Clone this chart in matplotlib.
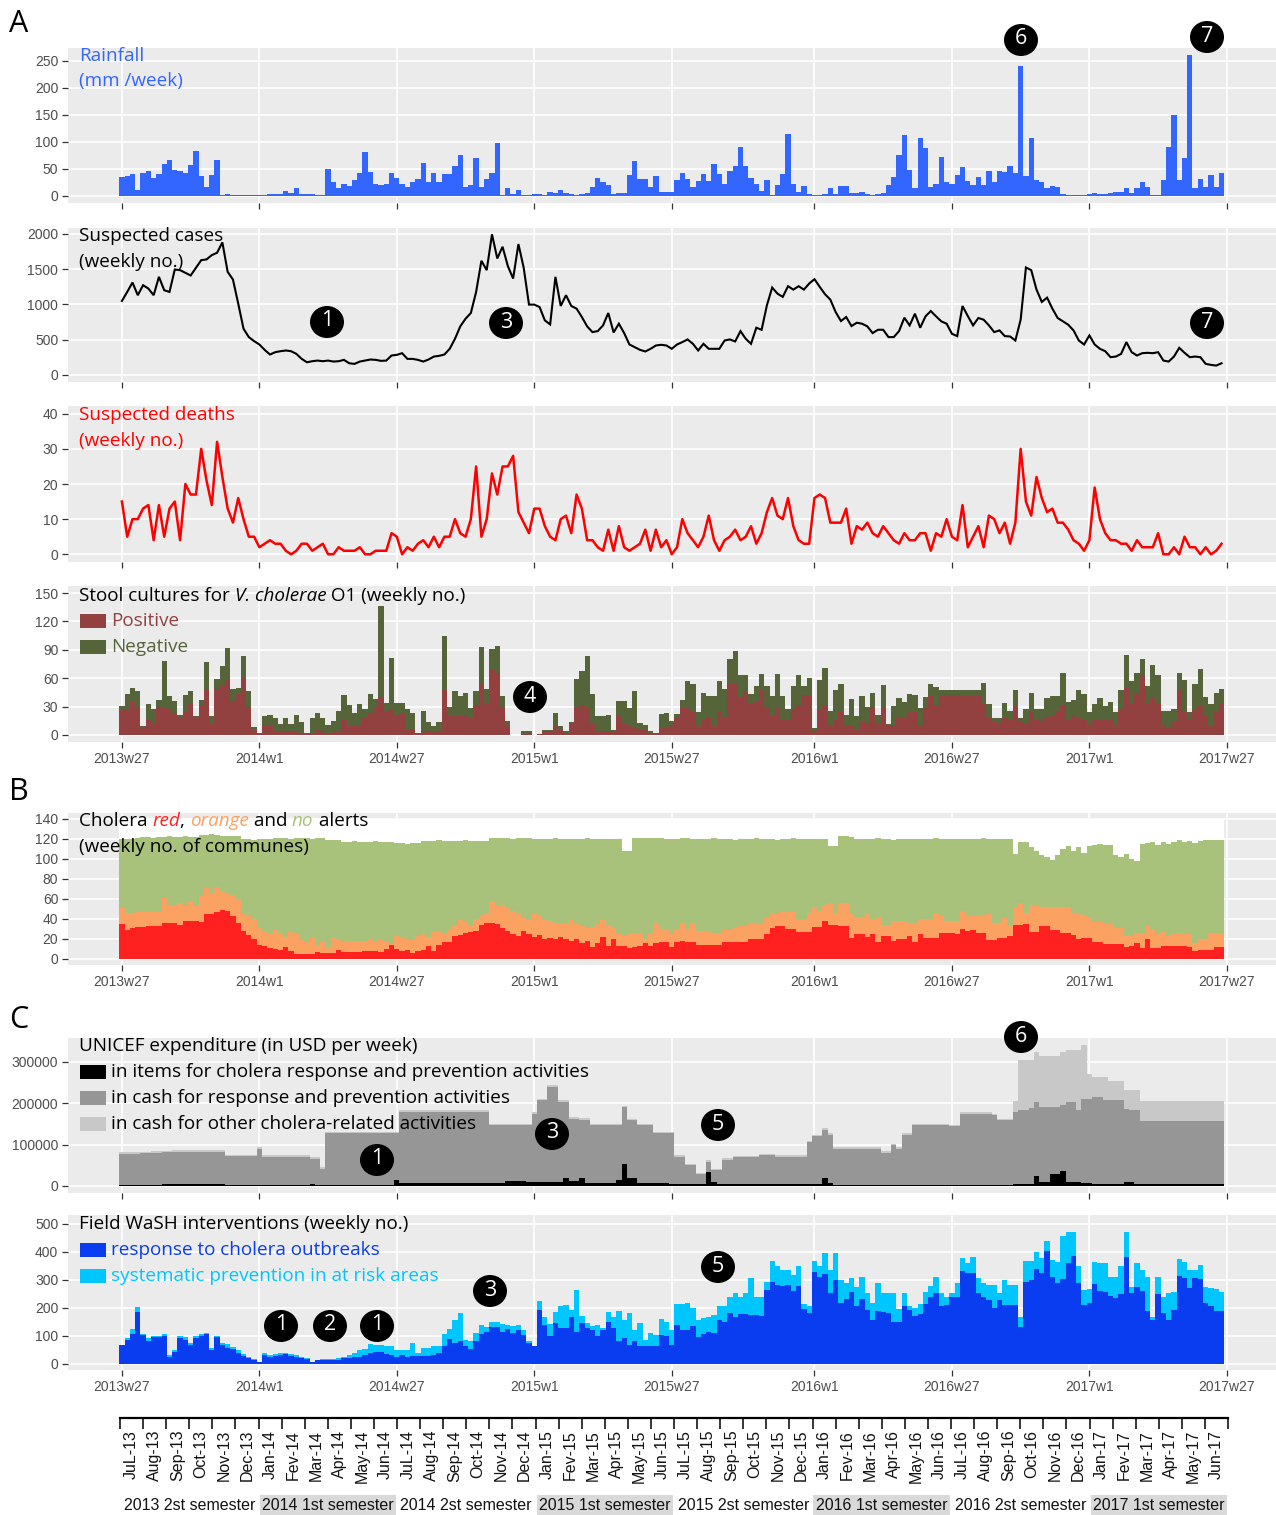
import numpy as np
import matplotlib
matplotlib.use("Agg")
import matplotlib.pyplot as plt
from matplotlib.patches import Ellipse, Rectangle

# ---------------------------------------------------------------- data
week_ticks = [0, 26, 52, 78, 104, 131, 157, 183, 209]
week_labels = ['2013w27', '2014w1', '2014w27', '2015w1', '2015w27',
               '2016w1', '2016w27', '2017w1', '2017w27']

month_labels = ['JuL-13', 'Aug-13', 'Sep-13', 'Oct-13', 'Nov-13', 'Dec-13',
                'Jan-14', 'Fev-14', 'Mar-14', 'Apr-14', 'May-14', 'Jun-14',
                'JuL-14', 'Aug-14', 'Sep-14', 'Oct-14', 'Nov-14', 'Dec-14',
                'Jan-15', 'Fev-15', 'Mar-15', 'Apr-15', 'May-15', 'Jun-15',
                'JuL-15', 'Aug-15', 'Sep-15', 'Oct-15', 'Nov-15', 'Dec-15',
                'Jan-16', 'Fev-16', 'Mar-16', 'Apr-16', 'May-16', 'Jun-16',
                'JuL-16', 'Aug-16', 'Sep-16', 'Oct-16', 'Nov-16', 'Dec-16',
                'Jan-17', 'Fev-17', 'Mar-17', 'Apr-17', 'May-17', 'Jun-17']
semester_labels = ['2013 2st semester', '2014 1st semester', '2014 2st semester',
                   '2015 1st semester', '2015 2st semester', '2016 1st semester',
                   '2016 2st semester', '2017 1st semester']

rainfall = [36,37,40,11,42,47,34,40,60,67,
            48,47,43,58,84,37,16,39,67,1,
            4,1,1,1,1,1,1,1,3,3,
            3,10,6,14,4,3,3,1,2,50,
            26,14,22,19,29,42,81,45,22,20,
            23,43,33,22,16,26,32,61,25,42,
            25,40,40,56,75,16,20,71,16,32,
            42,98,2,14,4,11,2,1,3,4,
            2,7,5,11,5,3,2,3,5,16,
            34,25,20,3,6,6,39,64,31,31,
            16,37,8,8,8,29,42,32,16,28,
            40,27,60,40,22,47,55,91,55,34,
            22,9,30,2,20,40,115,23,7,19,
            3,2,2,3,14,3,19,19,5,5,
            8,3,2,4,6,20,35,76,113,48,
            14,108,88,16,23,73,25,23,39,54,
            28,20,35,20,47,25,47,45,55,42,
            240,37,108,29,26,14,19,17,3,2,
            2,1,1,4,6,3,3,5,8,8,
            14,5,14,26,17,1,1,29,91,150,
            29,70,261,14,32,16,39,16,43]

cases = [1050,1178,1311,1131,1273,1226,1131,1392,1202,1178,
         1496,1487,1449,1411,1520,1629,1639,1700,1734,1881,
         1463,1354,1012,656,537,480,432,356,290,323,
         337,347,337,299,228,180,195,204,195,204,
         190,195,214,166,157,190,204,219,214,200,
         204,276,285,309,228,228,214,190,219,261,
         271,290,371,513,689,798,879,1178,1620,1487,
         1995,1653,1819,1544,1368,1857,1520,998,998,964,
         774,717,1392,979,1131,979,941,822,689,608,
         622,703,879,603,727,594,432,394,356,333,
         371,418,428,418,371,432,466,504,442,347,
         442,371,371,371,489,504,475,622,513,442,
         670,641,988,1240,1154,1107,1259,1211,1259,1211,
         1297,1359,1249,1145,1069,893,765,822,694,741,
         727,689,594,641,641,537,537,622,812,703,
         869,670,831,907,831,760,727,584,551,979,
         836,703,808,784,703,608,632,551,546,489,
         784,1525,1487,1211,1036,1097,941,808,760,713,
         632,489,432,561,432,371,337,252,261,299,
         466,323,276,309,314,309,323,204,190,261,
         385,314,252,261,252,157,143,133,166]

deaths = [15,5,10,10,13,14,4,14,5,13,
          15,4,20,17,17,30,21,14,32,22,
          13,9,16,10,5,5,2,3,4,3,
          3,1,0,1,3,3,1,2,3,0,
          0,2,1,1,1,2,0,0,1,1,
          1,6,5,0,2,1,3,4,2,5,
          2,5,5,10,6,5,10,25,5,10,
          23,17,25,25,28,12,9,6,13,13,
          8,5,4,10,11,6,17,13,4,4,
          2,1,7,1,8,2,1,2,3,7,
          1,7,2,4,0,2,10,6,4,2,
          5,11,4,1,4,5,7,4,5,8,
          3,6,12,16,11,10,16,8,4,3,
          3,16,17,16,9,9,9,13,3,8,
          7,9,6,5,8,6,4,3,6,4,
          4,6,6,1,6,5,10,5,4,14,
          2,5,8,2,11,10,6,9,3,9,
          30,15,11,22,16,12,13,9,9,7,
          4,3,1,4,19,10,6,4,4,3,
          3,1,4,2,2,2,6,0,0,2,
          0,5,2,2,0,2,0,1,3]

stool_total = [31,43,50,46,9,33,27,37,78,41,
               36,21,42,46,20,37,77,20,59,73,
               92,49,50,83,46,8,2,20,21,18,
               12,18,12,21,14,2,18,23,18,11,
               15,25,42,32,23,33,27,43,38,136,
               34,81,34,34,27,23,2,25,14,9,
               14,105,30,46,41,44,28,46,93,49,
               91,94,41,15,0,0,4,4,0,1,
               5,5,23,9,4,14,59,68,83,43,
               20,20,21,5,36,36,28,46,13,11,
               4,2,22,23,15,22,37,57,54,24,
               44,41,41,57,49,80,89,63,63,43,
               52,64,52,41,64,41,27,52,63,52,
               60,7,58,71,25,47,54,21,38,20,
               41,29,44,21,53,12,31,39,35,43,
               42,28,40,54,51,48,48,48,48,48,
               48,48,48,55,33,18,18,34,25,47,
               18,27,44,27,27,39,41,41,66,35,
               37,47,43,24,33,39,31,35,24,48,
               85,57,66,80,52,74,63,25,25,27,
               65,58,24,54,70,40,33,44,49]

stool_positive = [26,26,36,28,7,16,12,28,30,27,
                  23,18,25,34,18,32,47,12,49,53,
                  58,36,43,60,30,5,2,11,9,4,
                  4,4,4,4,2,1,2,5,4,2,
                  4,4,16,11,9,11,18,23,28,39,
                  25,27,21,23,5,5,1,4,4,4,
                  4,47,20,20,20,21,18,32,54,34,
                  70,66,28,9,0,0,1,1,0,1,
                  4,4,11,5,2,12,28,32,28,12,
                  4,4,4,4,20,12,9,7,6,6,
                  2,2,7,7,10,18,28,30,24,10,
                  17,19,11,25,19,55,55,39,46,34,
                  35,47,29,20,28,17,16,27,32,42,
                  42,4,27,32,11,17,24,11,11,5,
                  14,13,28,13,30,10,11,18,18,24,
                  24,11,30,42,31,41,41,41,41,41,
                  41,41,41,34,19,14,13,19,16,31,
                  15,13,24,16,15,19,20,25,32,16,
                  21,19,16,11,17,16,16,17,11,26,
                  51,33,44,63,33,39,33,11,7,15,
                  47,25,17,27,31,20,11,24,34]

alert_red = [35,29,31,32,32,33,33,33,36,36,
             36,34,38,38,38,37,45,45,47,49,
             48,43,36,28,24,20,14,13,11,10,
             9,12,8,5,5,5,5,7,6,6,
             6,9,7,7,7,7,8,8,8,7,
             10,14,10,8,9,6,8,9,13,8,
             14,17,17,23,24,26,27,28,34,36,
             36,35,31,28,25,23,28,25,22,24,
             20,21,20,22,20,18,20,16,18,12,
             16,22,13,20,13,13,11,12,13,16,
             13,16,17,17,12,17,18,17,17,14,
             14,14,14,14,17,17,17,17,17,20,
             20,20,25,31,33,33,30,30,27,27,
             27,32,32,38,34,34,33,33,21,25,
             25,22,25,17,23,23,18,20,20,23,
             17,25,21,21,21,26,26,26,25,30,
             28,29,26,26,19,19,21,21,23,34,
             34,35,27,27,33,33,29,29,26,26,
             24,20,21,21,17,17,15,15,15,15,
             12,13,16,11,20,11,11,13,13,13,
             13,13,12,8,9,9,9,12,12]

# communes in red or orange alert (cumulative red + orange)
alert_red_orange = [51,46,46,47,47,47,47,47,61,53,
                    53,56,53,57,53,63,71,66,72,68,
                    66,64,60,45,43,40,31,28,26,29,
                    26,22,27,25,19,17,21,14,18,12,
                    22,19,17,18,18,18,18,20,17,19,
                    17,15,23,21,19,19,23,26,22,27,
                    28,26,30,33,39,38,33,40,43,46,
                    58,53,54,51,48,46,41,39,45,43,
                    39,38,36,35,36,39,35,33,31,32,
                    35,39,33,31,25,23,25,26,26,20,
                    25,36,30,30,25,30,36,30,36,28,
                    28,28,26,26,29,29,31,33,33,35,
                    35,35,42,45,45,47,47,47,40,40,
                    46,52,48,54,56,46,56,56,45,42,
                    42,46,40,42,34,34,38,38,38,36,
                    36,40,40,40,46,43,38,38,38,48,
                    43,43,43,43,45,36,36,41,34,51,
                    56,46,54,54,52,52,52,52,52,52,
                    45,45,44,41,37,37,35,35,31,31,
                    23,23,26,26,33,30,25,27,23,26,
                    26,25,25,16,20,20,26,26,26]

# communes reporting (red + orange + no alert)
alert_reporting = [120,120,120,121,122,122,121,122,122,123,
                   122,122,123,122,122,124,124,125,124,123,
                   123,123,123,120,120,119,120,120,120,121,
                   121,121,120,121,121,121,120,121,121,119,
                   119,119,117,117,118,117,117,117,118,117,
                   117,117,116,116,115,116,116,118,118,118,
                   119,118,118,118,118,119,118,118,118,118,
                   121,121,121,121,120,121,121,121,120,120,
                   120,120,121,120,120,120,120,120,121,120,
                   120,120,120,120,120,108,108,121,121,121,
                   121,121,121,120,120,120,121,121,120,120,
                   120,120,121,120,120,120,119,120,120,120,
                   121,120,120,120,119,120,120,121,120,120,
                   120,120,120,120,113,113,123,123,122,120,
                   120,120,120,121,120,120,119,120,120,120,
                   120,120,120,120,121,120,120,120,120,120,
                   120,120,120,121,120,120,120,120,120,105,
                   117,117,112,108,104,102,99,104,110,113,
                   108,112,106,113,114,115,114,114,104,102,
                   105,100,98,115,116,117,114,117,115,117,
                   119,117,118,116,118,119,119,119,119]
total_communes = 140

# UNICEF expenditure, thousands of USD per week
exp_items_k = [2,2,2,2,2,2,2,2,4,4,
               4,4,4,4,4,4,4,4,4,4,
               2,2,2,2,2,2,2,2,2,2,
               2,2,2,2,2,2,5,3,3,3,
               3,3,3,3,3,3,3,3,3,3,
               3,3,14,7,7,7,7,7,7,7,
               7,7,7,7,7,7,7,7,7,7,
               7,7,7,11,11,11,11,9,9,9,
               9,9,9,9,20,12,12,20,7,7,
               7,7,7,7,14,52,20,20,7,7,
               7,7,7,7,4,4,4,4,4,4,
               4,35,10,4,4,4,4,4,4,4,
               4,4,4,4,4,4,4,4,4,4,
               4,4,4,20,8,3,3,3,3,3,
               3,3,3,3,3,3,3,3,3,3,
               3,3,3,3,3,3,3,3,3,3,
               3,3,3,3,3,3,3,3,3,5,
               5,5,5,25,10,10,28,28,37,10,
               10,10,8,8,4,4,4,4,4,4,
               10,10,4,4,4,4,4,4,4,4,
               4,4,4,4,4,4,4,4,4]
# items + cash for response and prevention (cumulative level)
exp_items_cash_k = [77,77,78,78,79,79,80,80,81,81,
                    82,82,82,82,82,82,82,82,82,82,
                    72,72,72,72,72,72,90,70,70,70,
                    70,70,70,70,70,70,66,66,42,127,
                    127,127,127,127,127,127,127,127,127,127,
                    127,127,127,179,179,179,179,179,179,179,
                    179,179,179,179,179,179,179,179,179,179,
                    147,147,147,147,147,147,147,147,175,207,
                    207,240,240,203,203,163,163,160,160,147,
                    147,147,147,147,147,190,159,159,147,147,
                    147,127,127,127,127,70,70,50,50,28,
                    28,58,38,38,64,64,69,69,69,69,
                    69,74,74,74,70,70,70,70,70,70,
                    106,120,120,136,123,90,90,90,90,90,
                    90,90,90,90,80,80,98,90,123,123,
                    147,147,147,147,147,147,147,144,144,175,
                    175,175,175,175,175,171,159,159,159,179,
                    185,185,189,203,191,191,191,191,195,203,
                    203,183,211,211,215,215,207,207,207,207,
                    187,185,185,157,157,157,157,157,157,157,
                    157,157,157,157,157,157,157,157,157]
exp_other_k = [4,4,4,4,4,4,4,4,4,4,
               4,4,4,4,4,4,4,4,4,4,
               4,4,4,4,4,4,4,4,4,4,
               4,4,4,4,4,4,4,4,4,4,
               4,4,4,4,4,4,4,4,4,4,
               4,4,4,4,4,4,4,4,4,4,
               4,4,4,4,4,4,4,4,4,4,
               4,4,4,4,4,4,4,4,4,4,
               4,4,4,4,4,4,4,4,4,4,
               4,4,4,4,4,4,4,4,4,4,
               4,4,4,4,4,4,4,4,4,4,
               4,4,4,4,4,4,4,4,4,4,
               4,4,4,4,4,4,4,4,4,4,
               4,4,4,4,4,4,4,4,4,4,
               4,4,4,4,4,4,4,4,4,4,
               4,4,4,4,4,4,4,4,4,4,
               4,4,4,4,4,4,4,4,4,26,
               119,119,115,120,124,124,124,124,129,127,
               127,147,129,59,49,49,57,46,46,46,
               46,48,48,49,49,49,49,49,49,49,
               49,49,49,49,49,49,49,49,49]

wash_response = [68,86,107,187,104,80,95,95,100,26,
                 44,92,86,68,92,98,107,50,95,68,
                 56,52,40,29,20,14,5,32,26,29,
                 32,35,29,26,20,17,6,12,14,14,
                 12,14,20,20,26,26,32,40,44,44,
                 36,32,26,32,26,29,29,29,29,32,
                 38,62,88,74,80,64,52,80,107,115,
                 133,133,115,124,110,121,104,74,62,193,
                 139,98,145,127,127,169,115,145,127,121,
                 98,121,148,127,80,92,68,80,64,64,
                 64,64,104,98,68,139,121,121,136,95,
                 107,115,112,157,151,181,169,179,179,175,
                 175,171,264,294,282,279,282,262,279,195,
                 183,330,312,321,252,298,217,231,258,205,
                 231,193,155,190,187,181,148,148,207,193,
                 171,179,214,238,252,205,212,240,240,333,
                 326,324,252,240,229,199,229,212,212,212,
                 133,294,300,338,324,405,312,290,302,360,
                 386,290,212,217,286,262,258,243,235,250,
                 383,252,276,262,190,157,250,181,157,193,
                 314,307,270,307,302,219,207,190,190]
# response + systematic prevention (total)
wash_total = [68,92,124,202,107,92,98,98,107,32,
              50,98,95,74,98,107,112,56,100,74,
              70,60,50,35,24,17,5,38,32,36,
              38,40,36,32,24,20,8,14,17,17,
              17,20,26,32,40,48,52,70,68,68,
              64,62,48,48,48,74,40,58,56,62,
              64,107,124,157,183,86,80,110,139,133,
              148,148,143,139,136,139,121,80,64,226,
              169,143,187,207,212,193,264,171,145,136,
              139,127,187,169,190,157,181,121,145,86,
              110,104,160,151,121,214,214,217,199,157,
              163,169,175,205,205,240,255,240,252,306,
              240,240,294,369,351,336,336,317,348,214,
              207,369,351,395,336,395,298,290,306,274,
              310,255,217,290,252,252,255,195,252,207,
              199,214,258,279,310,252,240,255,288,377,
              362,383,306,288,282,282,252,300,282,282,
              167,369,369,398,377,440,371,365,458,473,
              473,348,264,267,365,360,360,310,310,350,
              473,276,362,336,310,169,310,240,252,258,
              374,365,336,336,355,274,271,267,258]

N = len(rainfall)
for arr in [cases, deaths, stool_total, stool_positive, alert_red, alert_red_orange,
            alert_reporting, exp_items_k, exp_items_cash_k, exp_other_k,
            wash_response, wash_total]:
    assert len(arr) == N, len(arr)

# ---------------------------------------------------------------- figure
W, H = 1276, 1515
DPI = 100
plt.rcParams['font.family'] = ['Liberation Sans', 'DejaVu Sans']
fig = plt.figure(figsize=(W / DPI, H / DPI), dpi=DPI)
renderer = fig.canvas.get_renderer()

TFONT = ['Open Sans', 'DejaVu Sans']
AFONT = ['Liberation Sans', 'DejaVu Sans']
TSIZE = 13.6

weeks = np.arange(N)
edges = np.arange(N + 1) - 0.5


def fx(x):
    return x / W


def fy(y):
    return 1 - y / H


def add_panel(y0, y1, ylim, yticks, xlabels=False, ytick_labels=None):
    ax = fig.add_axes([fx(68), fy(y1), fx(1276) - fx(68), (y1 - y0) / H])
    ax.set_facecolor('#EBEBEB')
    for s in ax.spines.values():
        s.set_visible(False)
    ax.set_xlim(-10.2, 218.3)
    ax.set_ylim(*ylim)
    ax.set_xticks(week_ticks)
    ax.set_yticks(yticks)
    if ytick_labels is not None:
        ax.set_yticklabels(ytick_labels)
    if xlabels:
        ax.set_xticklabels(week_labels)
    else:
        ax.set_xticklabels([])
    ax.grid(True, color='white', lw=1.2)
    ax.set_axisbelow(True)
    ax.tick_params(axis='both', length=4, width=0.9, color='#333333',
                   labelsize=10, labelcolor='#4D4D4D', pad=3)
    return ax


def text_width(s, size, style='normal'):
    t = fig.text(0, 0, s + '|', fontsize=size, family=TFONT, style=style)
    t2 = fig.text(0, 0, '|', fontsize=size, family=TFONT, style=style)
    w = t.get_window_extent(renderer).width - t2.get_window_extent(renderer).width
    t.remove()
    t2.remove()
    return w


def rich(x, y, parts, size=TSIZE):
    for s, color, style in parts:
        fig.text(fx(x), fy(y), s, fontsize=size, family=TFONT, color=color,
                 style=style, ha='left', va='center', zorder=15)
        x += text_width(s, size, style)


def label(x, y, s, color='black', size=TSIZE):
    fig.text(fx(x), fy(y), s, fontsize=size, family=TFONT, color=color,
             ha='left', va='center', zorder=15)


def swatch(y, color):
    fig.add_artist(Rectangle((fx(80), fy(y + 7)), 26 / W, 14 / H,
                             transform=fig.transFigure, facecolor=color,
                             edgecolor='none', zorder=15))


def badge(x, y, s):
    fig.add_artist(Ellipse((fx(x), fy(y)), 34 / W, 32 / H, transform=fig.transFigure,
                           facecolor='black', edgecolor='none', zorder=20))
    fig.text(fx(x), fy(y - 1), s, color='white', fontsize=15.5, family=TFONT,
             ha='center', va='center', zorder=21)


def stacked(ax, layers, colors):
    base = np.zeros(N)
    for vals, c in zip(layers, colors):
        top = base + np.asarray(vals, dtype=float)
        ax.stairs(top, edges, baseline=base, fill=True, color=c, lw=0)
        base = top


# ---- A: rainfall
ax = add_panel(48, 203, (-13, 274), [0, 50, 100, 150, 200, 250])
stacked(ax, [rainfall], ['#3366FF'])
label(79, 56, 'Rainfall', '#3366FF')
label(79, 81, '(mm /week)', '#3366FF')

# ---- A: suspected cases
ax = add_panel(228, 382, (-100, 2085), [0, 500, 1000, 1500, 2000])
ax.plot(weeks, cases, color='black', lw=1.5, solid_joinstyle='miter')
label(79, 236, 'Suspected cases')
label(79, 262, '(weekly no.)')

# ---- A: suspected deaths
ax = add_panel(406, 562, (-2.2, 42.2), [0, 10, 20, 30, 40])
ax.plot(weeks, deaths, color='#FF0000', lw=1.8)
label(79, 415, 'Suspected deaths', '#FF0000')
label(79, 441, '(weekly no.)', '#FF0000')

# ---- A: stool cultures
pos = np.minimum(np.array(stool_positive), np.array(stool_total))
neg = np.array(stool_total) - pos
ax = add_panel(586, 742, (-7.5, 157.5), [0, 30, 60, 90, 120, 150], xlabels=True)
stacked(ax, [pos, neg], ['#934040', '#566439'])
rich(79, 596, [('Stool cultures for ', 'black', 'normal'),
               ('V. cholerae', 'black', 'italic'),
               (' O1 (weekly no.)', 'black', 'normal')])
swatch(621, '#934040')
label(111, 621, 'Positive', '#934040')
swatch(647, '#566439')
label(111, 647, 'Negative', '#566439')

# ---- B: alerts
red = np.array(alert_red)
red_orange = np.maximum(np.array(alert_red_orange), red)
reporting = np.maximum(np.array(alert_reporting), red_orange)
ax = add_panel(813, 965, (-6.5, 146), [0, 20, 40, 60, 80, 100, 120, 140], xlabels=True)
stacked(ax, [red, red_orange - red, reporting - red_orange, total_communes - reporting],
        ['#FF2020', '#FBA262', '#A9C27B', 'white'])
rich(79, 821, [('Cholera ', 'black', 'normal'), ('red', '#FF2020', 'italic'),
               (', ', 'black', 'normal'), ('orange', '#FBA262', 'italic'),
               (' and ', 'black', 'normal'), ('no', '#A9C27B', 'italic'),
               (' alerts', 'black', 'normal')])
label(79, 847, '(weekly no. of communes)')

# ---- C: UNICEF expenditure
items = np.array(exp_items_k) * 1000.0
cash_resp = (np.array(exp_items_cash_k) - np.array(exp_items_k)) * 1000.0
cash_other = np.array(exp_other_k) * 1000.0
ax = add_panel(1038, 1193, (-17000, 358000), [0, 100000, 200000, 300000],
               ytick_labels=['0', '100000', '200000', '300000'])
stacked(ax, [items, cash_resp, cash_other], ['#000000', '#969696', '#C8C8C8'])
label(79, 1046, 'UNICEF expenditure (in USD per week)')
swatch(1072, '#000000')
label(111, 1072, 'in items for cholera response and prevention activities')
swatch(1098, '#969696')
label(111, 1098, 'in cash for response and prevention activities')
swatch(1124, '#C8C8C8')
label(111, 1124, 'in cash for other cholera-related activities')

# ---- C: WaSH interventions
resp = np.array(wash_response)
prev = np.maximum(np.array(wash_total), resp) - resp
ax = add_panel(1215, 1370, (-22, 532), [0, 100, 200, 300, 400, 500], xlabels=True)
stacked(ax, [resp, prev], ['#0A3CF0', '#00C6FF'])
label(79, 1224, 'Field WaSH interventions (weekly no.)')
swatch(1250, '#0A3CF0')
label(111, 1250, 'response to cholera outbreaks', '#0A3CF0')
swatch(1276, '#00C6FF')
label(111, 1276, 'systematic prevention in at risk areas', '#00C6FF')

# ---- panel letters
for s, y in [('A', 24), ('B', 792), ('C', 1020)]:
    fig.text(fx(19), fy(y), s, fontsize=22, family=TFONT, ha='center', va='center')

# ---- numbered badges
for (x, y, s) in [(1021, 40, '6'), (1207, 37, '7'),
                  (327, 322, '1'), (506, 323, '3'), (1207, 323, '7'),
                  (530, 697, '4'),
                  (1021, 1037, '6'), (377, 1160, '1'), (552, 1134, '3'), (718, 1125, '5'),
                  (281, 1326, '1'), (330, 1326, '2'), (377, 1326, '1'),
                  (490, 1291, '3'), (718, 1267, '5')]:
    badge(x, y, s)

# ---- month axis
axm = fig.add_axes([fx(120), fy(1418), fx(1228) - fx(120), 0.0005])
axm.set_xlim(0, len(month_labels))
axm.set_ylim(0, 1)
axm.patch.set_visible(False)
for s in ['top', 'left', 'right']:
    axm.spines[s].set_visible(False)
axm.spines['bottom'].set_linewidth(1.6)
axm.set_yticks([])
axm.set_xticks(np.arange(len(month_labels) + 1))
axm.set_xticklabels([])
axm.tick_params(axis='x', which='major', direction='out', length=8, width=1.1, color='black')
axm.set_xticks(np.arange(len(month_labels)) + 0.5, minor=True)
axm.set_xticklabels(month_labels, minor=True, rotation=90, fontsize=11.5,
                    family=AFONT, color='#111111')
axm.tick_params(axis='x', which='minor', length=0, pad=8.5)

mw = (1228 - 120) / len(month_labels)
for k, s in enumerate(semester_labels):
    x0 = 120 + 6 * k * mw
    if k % 2 == 1:
        fig.add_artist(Rectangle((fx(x0 + 1), fy(1515)), (6 * mw - 2) / W, 20 / H,
                                 transform=fig.transFigure, facecolor='#D9D9D9',
                                 edgecolor='none', zorder=1))
    fig.text(fx(x0 + 3 * mw), fy(1505), s, fontsize=11.5, family=AFONT,
             ha='center', va='center', color='#111111', zorder=2)

fig.savefig('out.png', dpi=DPI)
